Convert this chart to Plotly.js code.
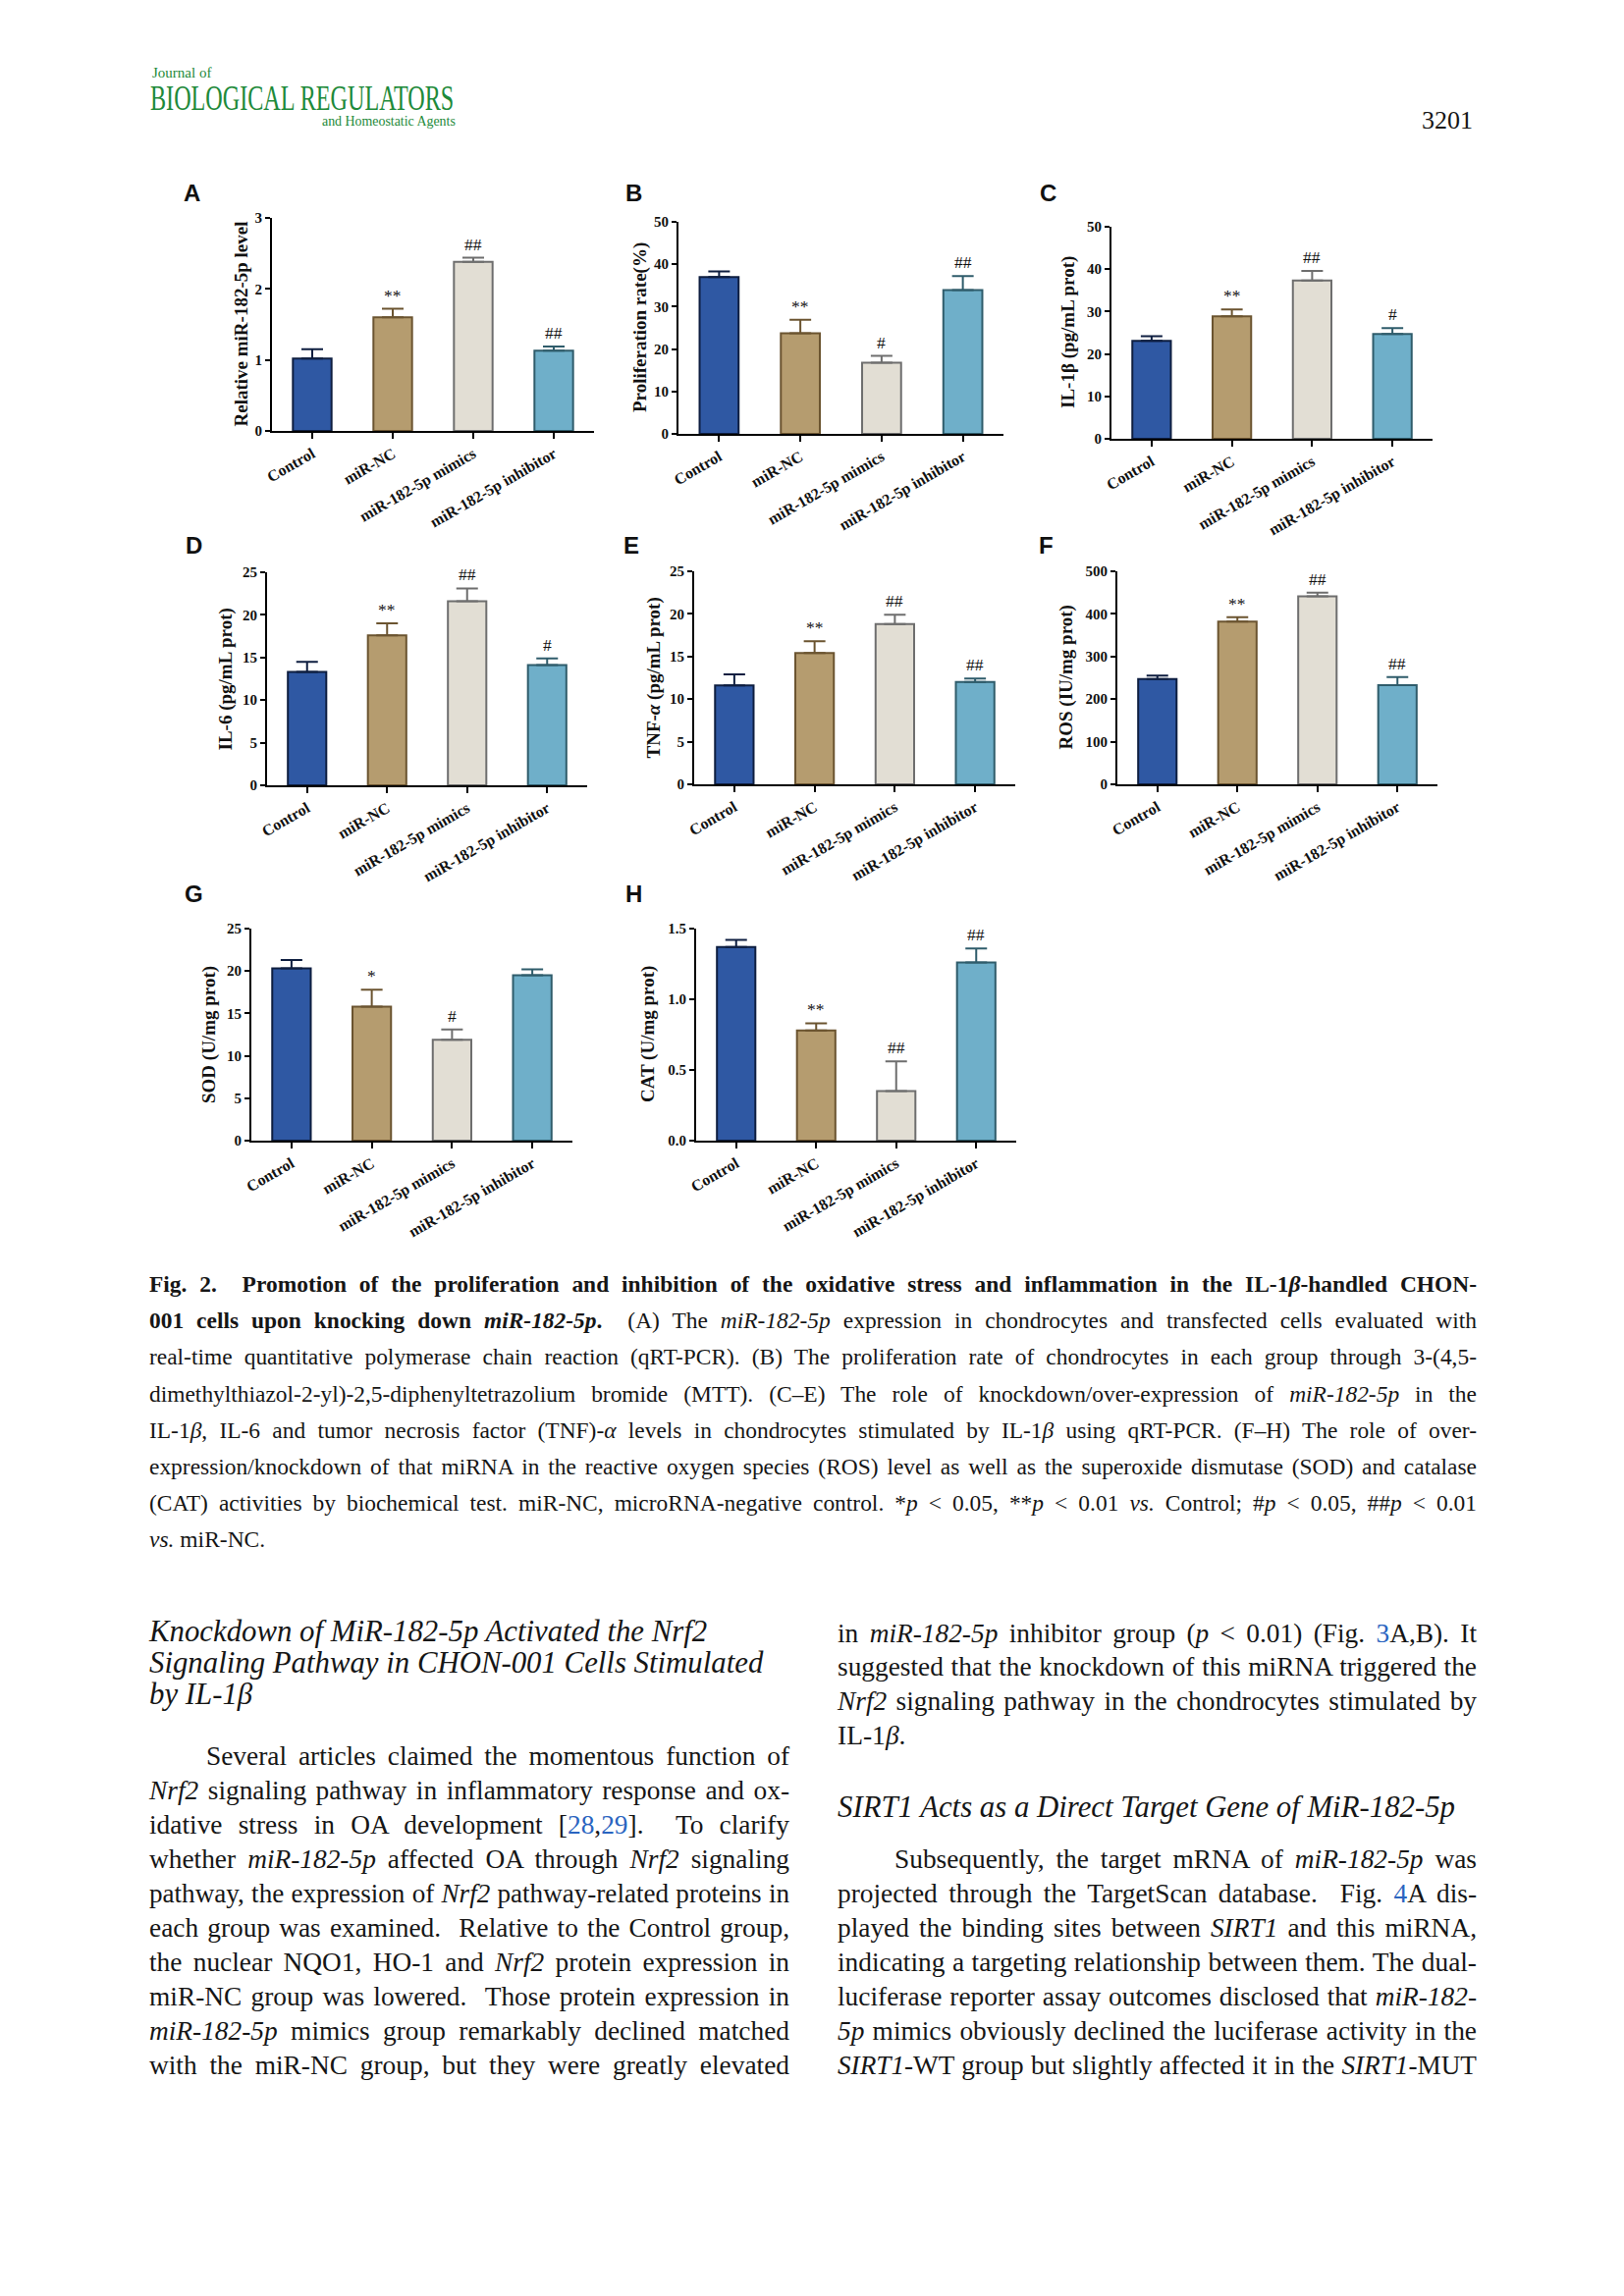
<!DOCTYPE html>
<html><head><meta charset="utf-8">
<script src="https://cdn.plot.ly/plotly-3.0.1.min.js"></script>
<style>
html,body{margin:0;padding:0;background:#fff;}
#page{position:relative;width:1654px;height:2339px;overflow:hidden;font-family:"Liberation Serif","Times New Roman",serif;color:#161616;}
#chart{position:absolute;left:0;top:0;width:1654px;height:2339px;}
.t{position:absolute;white-space:nowrap;line-height:1.2;}
.h{position:absolute;white-space:nowrap;line-height:1;}
.j{position:absolute;text-align:justify;text-align-last:justify;line-height:1.2;}
.cap{font-size:23.5px;left:152px;width:1352px;}
.bl{font-size:27.5px;left:152px;width:652px;}
.br{font-size:27.5px;left:853px;width:651px;}
.hd{font-size:30.8px;font-style:italic;}
.lnk{color:#2a64c0;}
.grn{color:#1e8a3a;}
</style></head>
<body>
<div id="page">
<div id="chart"></div>

<div class="h grn" style="left:155px;top:67px;font-size:15px;">Journal of</div>
<div class="h grn" style="left:153px;top:83px;font-size:35px;transform:scaleX(0.69);transform-origin:left top;">BIOLOGICAL REGULATORS</div>
<div class="h grn" style="left:328px;top:117px;font-size:13.9px;">and Homeostatic Agents</div>
<div class="t" style="left:1448px;top:107px;font-size:26px;">3201</div>

<div class="j cap" style="top:1294px;font-weight:bold;">Fig. 2.&nbsp; Promotion of the proliferation and inhibition of the oxidative stress and inflammation in the IL-1<i>β</i>-handled CHON-</div>
<div class="j cap" style="top:1331px;"><b>001 cells upon knocking down <i>miR-182-5p</i>.</b>&nbsp; (A) The <i>miR-182-5p</i> expression in chondrocytes and transfected cells evaluated with</div>
<div class="j cap" style="top:1368px;">real-time quantitative polymerase chain reaction (qRT-PCR). (B) The proliferation rate of chondrocytes in each group through 3-(4,5-</div>
<div class="j cap" style="top:1406px;">dimethylthiazol-2-yl)-2,5-diphenyltetrazolium bromide (MTT). (C–E) The role of knockdown/over-expression of <i>miR-182-5p</i> in the</div>
<div class="j cap" style="top:1443px;">IL-1<i>β</i>, IL-6 and tumor necrosis factor (TNF)-<i>α</i> levels in chondrocytes stimulated by IL-1<i>β</i> using qRT-PCR. (F–H) The role of over-</div>
<div class="j cap" style="top:1480px;">expression/knockdown of that miRNA in the reactive oxygen species (ROS) level as well as the superoxide dismutase (SOD) and catalase</div>
<div class="j cap" style="top:1517px;">(CAT) activities by biochemical test. miR-NC, microRNA-negative control. *<i>p</i> &lt; 0.05, **<i>p</i> &lt; 0.01 <i>vs.</i> Control; #<i>p</i> &lt; 0.05, ##<i>p</i> &lt; 0.01</div>
<div class="t cap" style="top:1554px;"><i>vs.</i> miR-NC.</div>

<div class="t hd" style="left:152px;top:1644px;">Knockdown of MiR-182-5p Activated the Nrf2</div>
<div class="t hd" style="left:152px;top:1676px;">Signaling Pathway in CHON-001 Cells Stimulated</div>
<div class="t hd" style="left:152px;top:1708px;">by IL-1<i>β</i></div>

<div class="j bl" style="top:1773px;padding-left:58px;width:594px;">Several articles claimed the momentous function of</div>
<div class="j bl" style="top:1808px;"><i>Nrf2</i> signaling pathway in inflammatory response and ox-</div>
<div class="j bl" style="top:1843px;">idative stress in OA development [<span class="lnk">28</span>,<span class="lnk">29</span>]. &nbsp;To clarify</div>
<div class="j bl" style="top:1878px;">whether <i>miR-182-5p</i> affected OA through <i>Nrf2</i> signaling</div>
<div class="j bl" style="top:1913px;">pathway, the expression of <i>Nrf2</i> pathway-related proteins in</div>
<div class="j bl" style="top:1948px;">each group was examined. &nbsp;Relative to the Control group,</div>
<div class="j bl" style="top:1983px;">the nuclear NQO1, HO-1 and <i>Nrf2</i> protein expression in</div>
<div class="j bl" style="top:2018px;">miR-NC group was lowered. &nbsp;Those protein expression in</div>
<div class="j bl" style="top:2053px;"><i>miR-182-5p</i> mimics group remarkably declined matched</div>
<div class="j bl" style="top:2088px;">with the miR-NC group, but they were greatly elevated</div>

<div class="j br" style="top:1648px;">in <i>miR-182-5p</i> inhibitor group (<i>p</i> &lt; 0.01) (Fig. <span class="lnk">3</span>A,B). It</div>
<div class="j br" style="top:1682px;">suggested that the knockdown of this miRNA triggered the</div>
<div class="j br" style="top:1717px;"><i>Nrf2</i> signaling pathway in the chondrocytes stimulated by</div>
<div class="t br" style="top:1751px;">IL-1<i>β</i>.</div>
<div class="t hd" style="left:853px;top:1823px;">SIRT1 Acts as a Direct Target Gene of MiR-182-5p</div>
<div class="j br" style="top:1878px;padding-left:58px;width:593px;">Subsequently, the target mRNA of <i>miR-182-5p</i> was</div>
<div class="j br" style="top:1913px;">projected through the TargetScan database. &nbsp;Fig. <span class="lnk">4</span>A dis-</div>
<div class="j br" style="top:1948px;">played the binding sites between <i>SIRT1</i> and this miRNA,</div>
<div class="j br" style="top:1983px;">indicating a targeting relationship between them. The dual-</div>
<div class="j br" style="top:2018px;">luciferase reporter assay outcomes disclosed that <i>miR-182-</i></div>
<div class="j br" style="top:2053px;"><i>5p</i> mimics obviously declined the luciferase activity in the</div>
<div class="j br" style="top:2088px;"><i>SIRT1</i>-WT group but slightly affected it in the <i>SIRT1</i>-MUT</div>
</div>

<script>
// ---------- data ----------
const categories = ['Control', 'miR-NC', 'miR-182-5p mimics', 'miR-182-5p inhibitor'];

const mirLevelValues = [1.02, 1.60, 2.38, 1.13];
const mirLevelErrors = [0.13, 0.12, 0.06, 0.06];
const mirLevelMarks  = ['', '**', '##', '##'];

const prolifValues = [37.0, 23.7, 16.8, 33.9];
const prolifErrors = [1.3, 3.2, 1.6, 3.3];
const prolifMarks  = ['', '**', '#', '##'];

const il1bValues = [23.1, 28.9, 37.3, 24.7];
const il1bErrors = [1.1, 1.6, 2.3, 1.4];
const il1bMarks  = ['', '**', '##', '#'];

const il6Values = [13.3, 17.6, 21.6, 14.1];
const il6Errors = [1.2, 1.4, 1.5, 0.8];
const il6Marks  = ['', '**', '##', '#'];

const tnfValues = [11.6, 15.4, 18.8, 12.0];
const tnfErrors = [1.3, 1.4, 1.1, 0.4];
const tnfMarks  = ['', '**', '##', '##'];

const rosValues = [247, 382, 441, 233];
const rosErrors = [8, 10, 9, 19];
const rosMarks  = ['', '**', '##', '##'];

const sodValues = [20.3, 15.8, 11.9, 19.5];
const sodErrors = [1.0, 2.0, 1.2, 0.7];
const sodMarks  = ['', '*', '#', ''];

const catValues = [1.37, 0.78, 0.35, 1.26];
const catErrors = [0.05, 0.05, 0.21, 0.10];
const catMarks  = ['', '**', '##', '##'];

const ticksA = [0, 1, 2, 3];
const ticks50 = [0, 10, 20, 30, 40, 50];
const ticks25 = [0, 5, 10, 15, 20, 25];
const ticks500 = [0, 100, 200, 300, 400, 500];
const ticksCat = [0, 0.5, 1.0, 1.5];
const ticksCatText = ['0.0', '0.5', '1.0', '1.5'];

// ---------- fit justified text lines ----------
document.querySelectorAll('.j').forEach(el => {
  const span = document.createElement('span');
  span.style.whiteSpace = 'nowrap';
  while (el.firstChild) span.appendChild(el.firstChild);
  el.appendChild(span);
  const cs = getComputedStyle(el);
  const avail = el.clientWidth - parseFloat(cs.paddingLeft) - parseFloat(cs.paddingRight);
  const w = span.getBoundingClientRect().width;
  if (w > avail - 2) {
    el.style.fontSize = (parseFloat(cs.fontSize) * (avail - 3) / w) + 'px';
  }
  while (span.firstChild) el.insertBefore(span.firstChild, span);
  el.removeChild(span);
});

// ---------- styles ----------
const fillColors = ['#2F58A3', '#B59C6F', '#E2DED4', '#6FAFC9'];
const edgeColors = ['#0E1E40', '#6B5430', '#6E6E6E', '#2F5C6B'];
const serif = 'Liberation Serif, Times New Roman, serif';

const panels = [
  {letter:'A', title:'Relative miR-182-5p level', vals:mirLevelValues, errs:mirLevelErrors, marks:mirLevelMarks, ymax:3, ticks:ticksA,
   box:[277,605,222,439], lpos:[195,197], tx:245},
  {letter:'B', title:'Proliferation rate(%)', vals:prolifValues, errs:prolifErrors, marks:prolifMarks, ymax:50, ticks:ticks50,
   box:[691,1022,226,442], lpos:[645,197], tx:652},
  {letter:'C', title:'IL-1β (pg/mL prot)', vals:il1bValues, errs:il1bErrors, marks:il1bMarks, ymax:50, ticks:ticks50,
   box:[1132,1459,231,447], lpos:[1067,197], tx:1088},
  {letter:'D', title:'IL-6 (pg/mL prot)', vals:il6Values, errs:il6Errors, marks:il6Marks, ymax:25, ticks:ticks25,
   box:[272,598,583,800], lpos:[197,555], tx:230},
  {letter:'E', title:'TNF-<i>α</i> (pg/mL prot)', vals:tnfValues, errs:tnfErrors, marks:tnfMarks, ymax:25, ticks:ticks25,
   box:[707,1034,582,799], lpos:[643,555], tx:665},
  {letter:'F', title:'ROS (IU/mg prot)', vals:rosValues, errs:rosErrors, marks:rosMarks, ymax:500, ticks:ticks500,
   box:[1138,1464,582,799], lpos:[1065,555], tx:1085},
  {letter:'G', title:'SOD (U/mg prot)', vals:sodValues, errs:sodErrors, marks:sodMarks, ymax:25, ticks:ticks25,
   box:[256,583,946,1162], lpos:[197,910], tx:213},
  {letter:'H', title:'CAT (U/mg prot)', vals:catValues, errs:catErrors, marks:catMarks, ymax:1.5, ticks:ticksCat, ticktext:ticksCatText,
   box:[709,1035,946,1162], lpos:[645,910], tx:660}
];

const W = 1654, H = 2339;
const fx = p => p / W;
const fy = p => 1 - p / H;

const traces = [];
const annotations = [];
const layout = {
  width: W, height: H,
  margin: {l:0, r:0, t:0, b:0},
  paper_bgcolor: 'rgba(0,0,0,0)',
  plot_bgcolor: 'rgba(0,0,0,0)',
  showlegend: false,
  barmode: 'overlay',
  font: {family: serif, color: '#111'}
};

panels.forEach((p, k) => {
  const n = k + 1;
  const xa = 'x' + n, ya = 'y' + n;
  const [x0, x1, yT, yZ] = p.box;
  layout['xaxis' + n] = {
    domain: [fx(x0), fx(x1)], anchor: ya, type: 'category',
    range: [-0.5, 3.5], showline: true, linecolor: '#000', linewidth: 2,
    ticks: 'outside', ticklen: 6, tickwidth: 2, tickcolor: '#000',
    tickangle: -30, showgrid: false, zeroline: false, fixedrange: true,
    tickfont: {family: serif, size: 16, color: '#111', weight: 'bold'}
  };
  const yax = {
    domain: [fy(yZ), fy(yT)], anchor: xa, range: [0, p.ymax],
    showline: true, linecolor: '#000', linewidth: 2,
    ticks: 'outside', ticklen: 5, tickwidth: 2, tickcolor: '#000',
    tickmode: 'array', tickvals: p.ticks, showgrid: false, zeroline: false,
    tickfont: {family: serif, size: 15, color: '#111', weight: 'bold'}
  };
  if (p.ticktext) yax.ticktext = p.ticktext;
  layout['yaxis' + n] = yax;

  categories.forEach((c, j) => {
    traces.push({
      type: 'bar', x: [c], y: [p.vals[j]], xaxis: xa, yaxis: ya, width: 0.48,
      marker: {color: fillColors[j], line: {color: edgeColors[j], width: 2}},
      error_y: {type: 'data', symmetric: false, array: [p.errs[j]], arrayminus: [0],
                color: edgeColors[j], thickness: 2, width: 11},
      hoverinfo: 'skip'
    });
    if (p.marks[j]) {
      annotations.push({
        xref: xa, yref: ya, x: c, y: p.vals[j] + p.errs[j], text: p.marks[j],
        showarrow: false, yanchor: 'bottom', yshift: 2,
        font: {family: serif, size: 17.5, color: '#111'}
      });
    }
  });

  annotations.push({
    xref: 'paper', yref: 'paper', x: fx(p.tx), y: fy((yT + yZ) / 2),
    text: '<b>' + p.title + '</b>', textangle: -90, showarrow: false,
    xanchor: 'center', yanchor: 'middle',
    font: {family: serif, size: 19, color: '#111'}
  });
  annotations.push({
    xref: 'paper', yref: 'paper', x: fx(p.lpos[0]), y: fy(p.lpos[1]),
    text: '<b>' + p.letter + '</b>', showarrow: false,
    xanchor: 'center', yanchor: 'middle',
    font: {family: 'Liberation Sans, Arial, sans-serif', size: 24, color: '#111'}
  });
});
layout.annotations = annotations;

Plotly.newPlot('chart', traces, layout, {staticPlot: true, displayModeBar: false});
</script>
</body></html>
